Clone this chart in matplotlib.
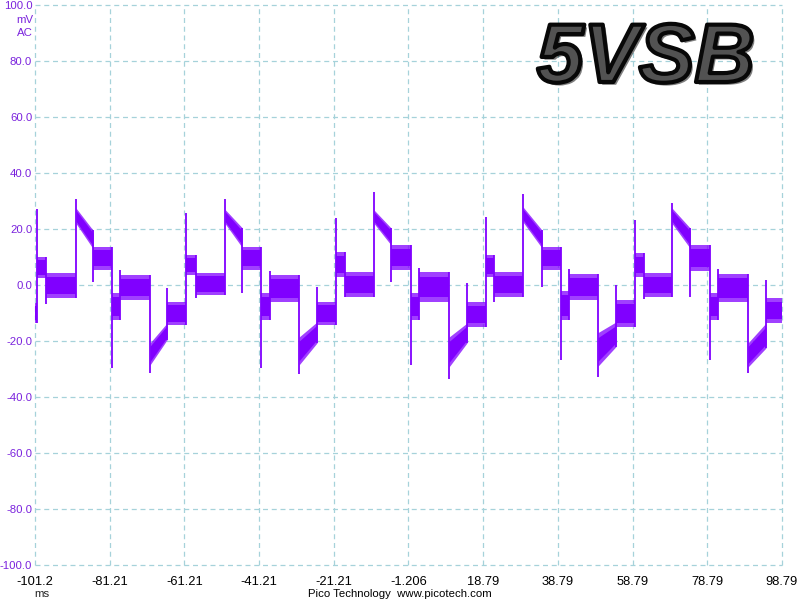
import numpy as np
import matplotlib
matplotlib.use("Agg")
import matplotlib.pyplot as plt
import matplotlib.patheffects as pe

plt.rcParams['font.family'] = ['Liberation Sans', 'DejaVu Sans']

# segment start times (ms); each segment is a noisy band that starts with a spike
seg_start = [-101.21, -100.67, -98.26, -90.23, -85.68, -80.59, -78.45, -70.42,
             -65.86, -60.78, -58.10, -50.34, -45.78, -40.70, -38.29, -30.52,
             -25.70, -20.62, -18.21, -10.44, -5.89, -0.54, 1.60, 9.64,
             14.46, 19.54, 21.69, 29.45, 34.54, 39.62, 41.77, 49.53,
             54.35, 59.44, 61.85, 69.34, 74.16, 79.52, 81.66, 89.69, 94.51]
t_end = 98.79

# spike value at the start of each segment (mV)
spike = [np.nan, 27.0, -6.8, 30.7, 1.0, -29.6, 5.4, -31.4,
         -1.0, 25.7, -4.6, 30.7, -2.9, -29.6, 5.0, -31.8,
         -0.7, 24.0, -4.3, 33.2, 1.0, -28.6, 6.0, -33.6,
         0.7, 24.3, -6.0, 32.5, -0.7, -26.8, 5.7, -32.9,
         0.0, 23.2, -5.0, 29.3, -4.3, -26.8, 5.7, -31.4, 1.8]

# band envelope: top / bottom at segment start and end (mV)
top_a = [-6.4, 10.0, 4.3, 27.5, 13.6, -2.9, 3.6, -20.7,
         -6.0, 10.7, 4.3, 27.0, 13.6, -2.9, 3.6, -18.6,
         -6.0, 11.8, 4.6, 26.8, 14.3, -3.0, 4.6, -18.6,
         -6.0, 10.7, 4.6, 27.9, 13.6, -2.0, 3.9, -17.0,
         -5.4, 11.4, 4.3, 27.5, 14.3, -3.0, 3.9, -20.7, -4.6]
top_b = [-6.4, 10.0, 4.3, 19.6, 13.6, -2.9, 3.6, -13.6,
         -6.0, 10.7, 4.3, 20.5, 13.6, -2.9, 3.6, -13.2,
         -6.0, 11.8, 4.6, 20.4, 14.3, -3.0, 4.6, -13.6,
         -6.0, 10.7, 4.6, 19.6, 13.6, -2.0, 3.9, -13.2,
         -5.4, 11.4, 4.3, 20.4, 14.3, -3.0, 3.9, -13.6, -4.6]
bot_a = [-13.6, 2.5, -4.6, 22.0, 5.4, -12.5, -5.4, -28.6,
         -14.3, 3.6, -3.6, 22.0, 5.4, -12.5, -6.0, -28.6,
         -14.3, 2.9, -4.3, 22.0, 5.4, -12.5, -6.0, -29.3,
         -15.0, 2.9, -4.3, 22.5, 5.4, -12.5, -5.4, -29.0,
         -15.0, 2.9, -4.3, 22.0, 5.0, -12.5, -6.0, -29.3, -13.6]
bot_b = [-13.6, 2.5, -4.6, 13.0, 5.4, -12.5, -5.4, -19.6,
         -14.3, 3.6, -3.6, 13.5, 5.4, -12.5, -6.0, -20.7,
         -14.3, 2.9, -4.3, 14.3, 5.4, -12.5, -6.0, -20.7,
         -15.0, 2.9, -4.3, 13.2, 5.4, -12.5, -5.4, -22.0,
         -15.0, 2.9, -4.3, 13.2, 5.0, -12.5, -6.0, -22.5, -13.6]

x_ticks = [-101.206 + 20 * k for k in range(11)]
x_labels = ['-101.2', '-81.21', '-61.21', '-41.21', '-21.21', '-1.206',
            '18.79', '38.79', '58.79', '78.79', '98.79']
y_ticks = [100, 80, 60, 40, 20, 0, -20, -40, -60, -80, -100]
y_labels = ['100.0', '80.0', '60.0', '40.0', '20.0', '0.0',
            '-20.0', '-40.0', '-60.0', '-80.0', '-100.0']

wave = '#8000ff'
label_purple = '#7a22dd'

fig = plt.figure(figsize=(8, 6), dpi=100)
ax = fig.add_axes([35 / 800, 35 / 600, 747 / 800, 560 / 600])

seg_end = seg_start[1:] + [t_end]
for i in range(len(seg_start)):
    t = [seg_start[i], seg_end[i]]
    hi = [top_a[i], top_b[i]]
    lo = [bot_a[i], bot_b[i]]
    # noisy fringe (lighter) and dense core
    ax.fill_between(t, lo, hi, color=wave, alpha=0.75, lw=0)
    core_hi = [h - 0.15 * (h - l) for h, l in zip(hi, lo)]
    core_lo = [l + 0.15 * (h - l) for h, l in zip(hi, lo)]
    ax.fill_between(t, core_lo, core_hi, color=wave, lw=0)
    if i > 0 and not np.isnan(spike[i]):
        ymin = min(spike[i], bot_a[i], bot_b[i - 1])
        ymax = max(spike[i], top_a[i], top_b[i - 1])
        ax.vlines(seg_start[i], ymin, ymax, color=wave, lw=1.3)

ax.set_xlim(x_ticks[0], x_ticks[-1])
ax.set_ylim(-100, 100)
ax.set_xticks(x_ticks)
ax.set_xticklabels(x_labels)
ax.set_yticks(y_ticks)
ax.set_yticklabels(y_labels)
ax.tick_params(axis='x', length=0, pad=8, labelsize=9.3, labelcolor='black')
ax.tick_params(axis='y', length=0, pad=2, labelsize=8.2, labelcolor=label_purple)
for s in ax.spines.values():
    s.set_visible(False)
ax.grid(True, color='#a6d2da', lw=0.9, linestyle=(0, (4, 3)))
ax.set_axisbelow(True)
for gl in ax.get_xgridlines() + ax.get_ygridlines():
    gl.set_clip_on(False)

fig.text(33 / 800, 1 - 20 / 600, 'mV', ha='right', va='center', fontsize=8.2, color=label_purple)
fig.text(33 / 800, 1 - 33 / 600, 'AC', ha='right', va='center', fontsize=8.2, color=label_purple)
fig.text(42 / 800, 1 - 594 / 600, 'ms', ha='center', va='center', fontsize=8.2, color='#222222')
fig.text(400 / 800, 1 - 594 / 600, 'Pico Technology  www.picotech.com',
         ha='center', va='center', fontsize=8.2, color='black')

fig.text(537 / 800, 1 - 82 / 600, '5VSB', ha='left', va='baseline', fontsize=60,
         fontweight='bold', fontstyle='italic', color='#525252',
         path_effects=[pe.SimplePatchShadow(offset=(2, -2), shadow_rgbFace='#000000', alpha=0.5),
                       pe.Normal(),
                       pe.Stroke(linewidth=3, foreground='#080808')])

fig.savefig('out.png', dpi=100, facecolor='white')
